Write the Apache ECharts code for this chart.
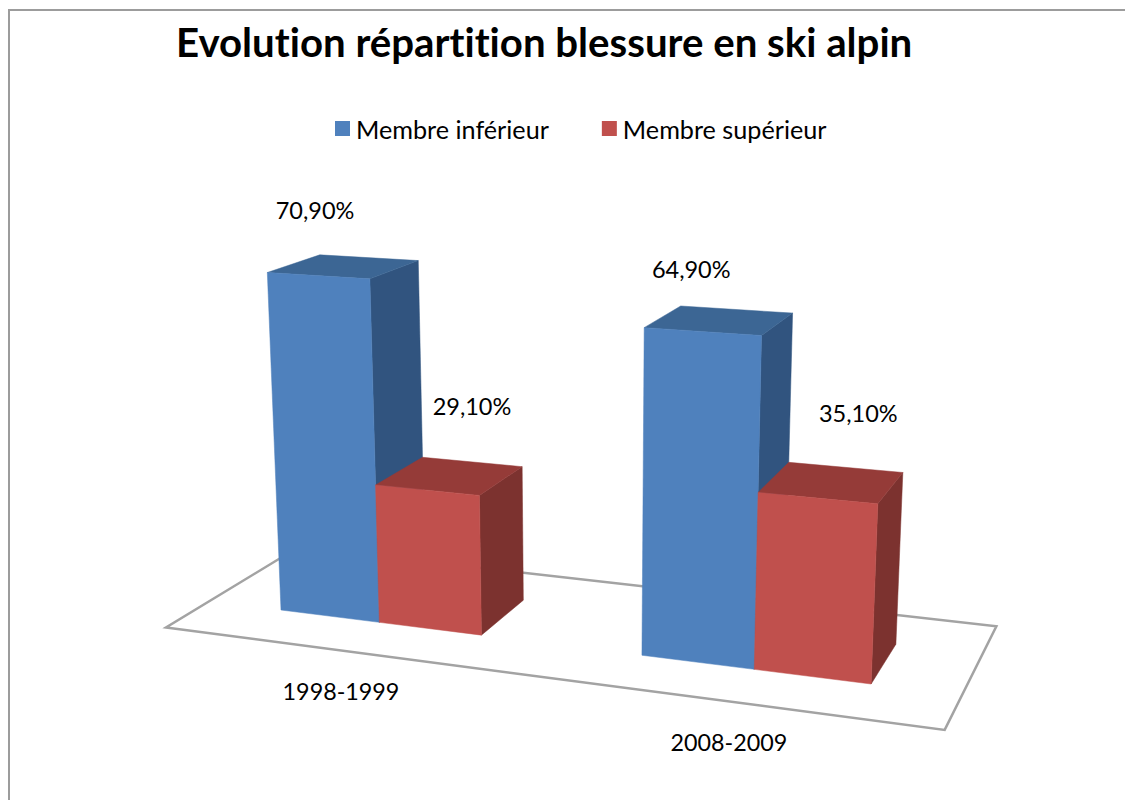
<!DOCTYPE html>
<html><head><meta charset="utf-8">
<style>html,body{margin:0;padding:0;background:#fff}#c{width:1125px;height:800px}#c text{font-variant-ligatures:none}</style>
<script src="https://cdn.jsdelivr.net/npm/echarts@6/dist/echarts.min.js"></script>
</head><body><div id="c"></div>
<script>
const titleText = 'Evolution répartition blessure en ski alpin';
const categories = ['1998-1999', '2008-2009'];
const seriesNames = ['Membre inférieur', 'Membre supérieur'];
const lowerLimb = [70.9, 64.9];
const upperLimb = [29.1, 35.1];

// --- style / view constants ---
const FONT = 'Lato, Carlito, "Noto Sans", sans-serif';
const COLORS = [
  {front: '#4F81BD', top: '#3C6694', side: '#31547F'},
  {front: '#C0504D', top: '#953B38', side: '#7C322F'}
];
// Projective camera: maps (along-axis fraction, value, depth) to the screen.
const CAM = {
  x: [281, 503, -0.3528, 1356],
  y: [610, 5.6, -4.923, -94],
  w: [1, -0.1, -0.000598, 1]
};
const BAR_DEPTH = 0.0485, FLOOR_FRONT = -0.0371, FLOOR_BACK = 0.085;
const GAP_BARS = 1.5;               // gap width between groups, in bar widths
const LABEL_NUDGE = [[[-3, -66], [-11, -63]], [[45, -84], [41, -85]]];
const CAT_LABEL_DROP = 40.5;

function project(X, V, Z) {
  const w = CAM.w[0] + CAM.w[1] * X + CAM.w[2] * V + CAM.w[3] * Z;
  return [
    (CAM.x[0] + CAM.x[1] * X + CAM.x[2] * V + CAM.x[3] * Z) / w,
    (CAM.y[0] + CAM.y[1] * X + CAM.y[2] * V + CAM.y[3] * Z) / w
  ];
}
// Read the flat cartesian scales of the (hidden) axes and express them in camera terms.
function frame(api) {
  const band = api.size([1, 0])[0];
  const bar = band / (2 + GAP_BARS);
  const start = api.coord([0, 0])[0] - bar;
  const span = bar * (2 * categories.length + GAP_BARS * (categories.length - 1));
  const unit = api.size([0, 1])[1];
  return {bar, band, start, span, unit,
    toX: u => (u - start) / span,
    toV: (cat, v) => (api.coord([cat, 0])[1] - api.coord([cat, v])[1]) / unit};
}
function poly(points, fill) {
  return {type: 'polygon', shape: {points}, style: {fill, stroke: fill, lineWidth: 0.5}};
}
function barRenderer(slot) {
  return function (params, api) {
    const f = frame(api);
    const cat = api.value(0), val = api.value(1);
    const mid = api.coord([cat, 0])[0];
    const X0 = f.toX(mid - f.bar + slot * f.bar), X1 = f.toX(mid + slot * f.bar);
    const V = f.toV(cat, val), c = COLORS[slot];
    const fb0 = project(X0, 0, 0), fb1 = project(X1, 0, 0);
    const ft0 = project(X0, V, 0), ft1 = project(X1, V, 0);
    const bt0 = project(X0, V, BAR_DEPTH), bt1 = project(X1, V, BAR_DEPTH);
    const bb1 = project(X1, 0, BAR_DEPTH);
    const anchor = project((X0 + X1) / 2, V, 0);
    const nudge = LABEL_NUDGE[slot][cat];
    return {type: 'group', children: [
      poly([ft1, bt1, bb1, fb1], c.side),
      poly([ft0, bt0, bt1, ft1], c.top),
      poly([fb0, ft0, ft1, fb1], c.front),
      {type: 'text', style: {
        text: val.toFixed(2).replace('.', ',') + '%',
        x: anchor[0] + nudge[0], y: anchor[1] + nudge[1],
        align: 'center', verticalAlign: 'middle',
        font: '23.5px ' + FONT, fill: '#000'}}
    ]};
  };
}
function floorRenderer(params, api) {
  const f = frame(api);
  const Xa = f.toX(f.start - f.bar * GAP_BARS / 2), Xb = f.toX(f.start + f.span + f.bar * GAP_BARS / 2);
  return {type: 'polygon',
    shape: {points: [
      project(Xa, 0, FLOOR_FRONT), project(Xb, 0, FLOOR_FRONT),
      project(Xb, 0, FLOOR_BACK), project(Xa, 0, FLOOR_BACK)]},
    style: {fill: '#fff', stroke: '#A3A3A3', lineWidth: 2.5}};
}
function catLabelRenderer(params, api) {
  const f = frame(api);
  const cat = api.value(0);
  const p = project(f.toX(api.coord([cat, 0])[0]), 0, FLOOR_FRONT);
  return {type: 'text', style: {
    text: categories[cat], x: p[0], y: p[1] + CAT_LABEL_DROP,
    align: 'center', verticalAlign: 'middle', font: '23.3px ' + FONT, fill: '#000'}};
}
const barData = arr => arr.map((v, i) => [i, v]);
const chart = echarts.init(document.getElementById('c'), null, {renderer: 'svg'});
chart.setOption({
  animation: false,
  backgroundColor: '#fff',
  title: {text: titleText, left: 171, top: 16,
    textStyle: {fontFamily: FONT, fontWeight: 'bold', fontSize: 40.2, color: '#000'}},
  legend: {data: seriesNames, left: 330, top: 111, icon: 'rect', itemWidth: 15, itemHeight: 15,
    itemGap: 53, textStyle: {fontFamily: FONT, fontSize: 25.2, color: '#000', padding: [0, 0, 0, 1]}},
  grid: {left: 170, right: 170, top: 200, bottom: 150},
  xAxis: {type: 'category', data: categories, show: false},
  yAxis: {type: 'value', min: 0, max: 80, show: false},
  graphic: [{type: 'polyline', silent: true, z: -1,
    shape: {points: [[9, 800], [9, 10], [1125, 10]]},
    style: {fill: 'none', stroke: '#9C9C9C', lineWidth: 2}}],
  series: [
    {name: 'floor', type: 'custom', renderItem: floorRenderer, data: [[0, 0]], clip: false, silent: true, z: 1},
    {name: seriesNames[0], type: 'custom', renderItem: barRenderer(0), data: barData(lowerLimb), clip: false, z: 2,
      itemStyle: {color: COLORS[0].front}},
    {name: seriesNames[1], type: 'custom', renderItem: barRenderer(1), data: barData(upperLimb), clip: false, z: 3,
      itemStyle: {color: COLORS[1].front}},
    {name: 'categories', type: 'custom', renderItem: catLabelRenderer, data: categories.map((c, i) => [i, 0]), clip: false, silent: true, z: 4}
  ]
});
</script></body></html>
